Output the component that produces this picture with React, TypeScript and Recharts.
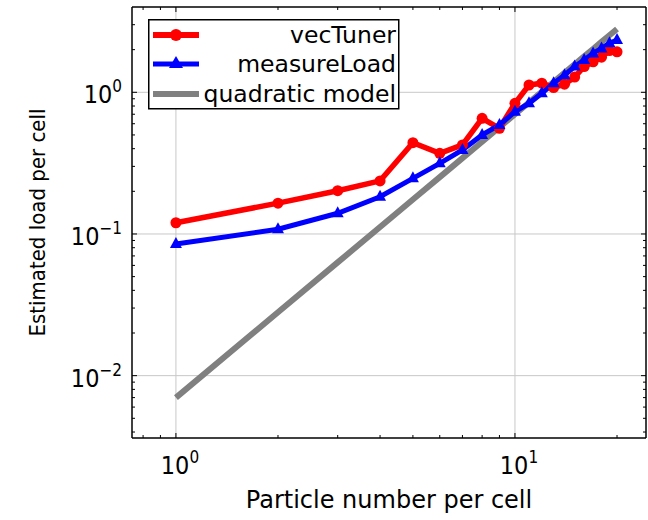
import { LineChart, Line, XAxis, YAxis, CartesianGrid } from 'recharts';

const particles = [1, 2, 3, 4, 5, 6, 7, 8, 9, 10, 11, 12, 13, 14, 15, 16, 17, 18, 19, 20];
const vecTuner = [0.12, 0.165, 0.202, 0.237, 0.441, 0.371, 0.425, 0.655, 0.557, 0.836, 1.126, 1.16, 1.08, 1.14, 1.28, 1.52, 1.64, 1.77, 1.97, 1.93];
const measureLoad = [0.085, 0.108, 0.14, 0.183, 0.247, 0.315, 0.392, 0.5, 0.588, 0.73, 0.836, 0.984, 1.16, 1.32, 1.52, 1.69, 1.88, 2.04, 2.22, 2.34];
const quadraticModel = [0.007, 0.028, 0.063, 0.112, 0.175, 0.252, 0.343, 0.448, 0.567, 0.7, 0.847, 1.008, 1.183, 1.372, 1.575, 1.792, 2.023, 2.268, 2.527, 2.8];

const xTicks = [0.8, 0.9, 1, 2, 3, 4, 5, 6, 7, 8, 9, 10, 20];
const yTicks = [
  0.004, 0.005, 0.006, 0.007, 0.008, 0.009, 0.01,
  0.02, 0.03, 0.04, 0.05, 0.06, 0.07, 0.08, 0.09, 0.1,
  0.2, 0.3, 0.4, 0.5, 0.6, 0.7, 0.8, 0.9, 1, 2, 3,
];
const xMajor = [1, 10];
const yMajor = [0.01, 0.1, 1];
const seriesNames = ['vecTuner', 'measureLoad', 'quadratic model'];

const data = particles.map((n, i) => ({
  n,
  vecTuner: vecTuner[i],
  measureLoad: measureLoad[i],
  quadratic: quadraticModel[i],
}));

const FONT = "'DejaVu Sans Condensed', 'DejaVu Sans', sans-serif";
const WIDE = "'DejaVu Sans', sans-serif";
const RED = '#ff0000';
const BLUE = '#0000ff';
const GRAY = '#808080';

const isMajor = (v: number) => Math.abs(Math.log10(v) - Math.round(Math.log10(v))) < 1e-6;

const powText = (v: number) => {
  const e = Math.round(Math.log10(v));
  return (
    <>
      10
      <tspan dy={-11} fontSize={17}>
        {e < 0 ? '\u2212' + -e : String(e)}
      </tspan>
    </>
  );
};

const BottomTick = ({ x, y, payload }: any) => {
  const major = isMajor(payload.value);
  return (
    <g>
      <line x1={x} x2={x} y1={y} y2={y - (major ? 5 : 3)} stroke="#000" />
      {major && (
        <text x={x + 4} y={y + 36} textAnchor="middle" fontSize={25} fontFamily={FONT} fill="#000">
          {powText(payload.value)}
        </text>
      )}
    </g>
  );
};

const TopTick = ({ x, y, payload }: any) => (
  <line x1={x} x2={x} y1={y} y2={y + (isMajor(payload.value) ? 5 : 3)} stroke="#000" />
);

const LeftTick = ({ x, y, payload }: any) => {
  const major = isMajor(payload.value);
  return (
    <g>
      <line x1={x} x2={x + (major ? 5 : 3)} y1={y} y2={y} stroke="#000" />
      {major && (
        <text x={x - 10} y={y + 11} textAnchor="end" fontSize={25} fontFamily={FONT} fill="#000">
          {powText(payload.value)}
        </text>
      )}
    </g>
  );
};

const RightTick = ({ x, y, payload }: any) => (
  <line x1={x} x2={x - (isMajor(payload.value) ? 5 : 3)} y1={y} y2={y} stroke="#000" />
);

const CircleDot = ({ cx, cy, index }: any) => (
  <circle key={index} cx={cx} cy={cy} r={5.5} fill={RED} />
);

const TriangleDot = ({ cx, cy, index }: any) => (
  <polygon
    key={index}
    points={`${cx},${cy - 7} ${cx - 6},${cy + 4} ${cx + 6},${cy + 4}`}
    fill={BLUE}
  />
);

const XTitle = ({ viewBox }: any) => (
  <text
    x={viewBox.x + viewBox.width / 2}
    y={viewBox.y + 70}
    textAnchor="middle"
    fontSize={24}
    fontFamily={WIDE}
    fill="#000"
  >
    Particle number per cell
  </text>
);

const YTitle = ({ viewBox }: any) => {
  const cx = viewBox.x + viewBox.width - 87;
  const cy = viewBox.y + viewBox.height / 2;
  return (
    <text
      x={cx}
      y={cy}
      transform={`rotate(-90, ${cx}, ${cy})`}
      textAnchor="middle"
      fontSize={22}
      fontFamily={FONT}
      fill="#000"
    >
      Estimated load per cell
    </text>
  );
};

const LegendBox = () => {
  const rows = [16, 45, 75];
  return (
    <svg width={252} height={91} style={{ position: 'absolute', left: 148, top: 19 }}>
      <rect x={0.75} y={0.75} width={250} height={89} fill="#fff" stroke="#000" strokeWidth={1.5} />
      <line x1={5} x2={51} y1={rows[0]} y2={rows[0]} stroke={RED} strokeWidth={6} />
      <circle cx={28} cy={rows[0]} r={6} fill={RED} />
      <line x1={5} x2={51} y1={rows[1]} y2={rows[1]} stroke={BLUE} strokeWidth={5} />
      <polygon points={`28,${rows[1] - 8} 21,${rows[1] + 4} 35,${rows[1] + 4}`} fill={BLUE} />
      <line x1={5} x2={51} y1={rows[2]} y2={rows[2]} stroke={GRAY} strokeWidth={6} />
      {seriesNames.map((name, i) => (
        <text key={name} x={248} y={rows[i] + 8} textAnchor="end" fontSize={23.5} fontFamily={WIDE} fill="#000">
          {name}
        </text>
      ))}
    </svg>
  );
};

const App = () => {
  return (
    <div style={{ position: 'absolute', left: 0, top: 0, width: 648, height: 520, background: '#fff' }}>
      <LineChart width={648} height={520} data={data} margin={{ top: 6, right: 1, bottom: 81, left: 131 }}>
        <CartesianGrid horizontalValues={yMajor} verticalValues={xMajor} stroke="#c8c8c8" strokeWidth={1} strokeDasharray="" />
        <XAxis
          dataKey="n"
          type="number"
          scale="log"
          domain={[0.742, 24.35]}
          allowDataOverflow
          ticks={xTicks}
          interval={0}
          height={1}
          tickSize={0}
          tickMargin={0}
          tickLine={false}
          tick={BottomTick}
          axisLine={{ stroke: '#000', strokeWidth: 1.5 }}
          label={{ content: XTitle }}
        />
        <XAxis
          xAxisId="top"
          orientation="top"
          dataKey="n"
          type="number"
          scale="log"
          domain={[0.742, 24.35]}
          allowDataOverflow
          ticks={xTicks}
          interval={0}
          height={1}
          tickSize={0}
          tickMargin={0}
          tickLine={false}
          tick={TopTick}
          axisLine={{ stroke: '#000', strokeWidth: 1.5 }}
        />
        <YAxis
          type="number"
          scale="log"
          domain={[0.00363, 4.0]}
          allowDataOverflow
          ticks={yTicks}
          interval={0}
          width={1}
          tickSize={0}
          tickMargin={0}
          tickLine={false}
          tick={LeftTick}
          axisLine={{ stroke: '#000', strokeWidth: 1.5 }}
          label={{ content: YTitle }}
        />
        <YAxis
          yAxisId="right"
          orientation="right"
          type="number"
          scale="log"
          domain={[0.00363, 4.0]}
          allowDataOverflow
          ticks={yTicks}
          interval={0}
          width={1}
          tickSize={0}
          tickMargin={0}
          tickLine={false}
          tick={RightTick}
          axisLine={{ stroke: '#000', strokeWidth: 1.5 }}
        />
        <Line dataKey="quadratic" name={seriesNames[2]} stroke={GRAY} strokeWidth={6} dot={false} isAnimationActive={false} />
        <Line dataKey="vecTuner" name={seriesNames[0]} stroke={RED} strokeWidth={5.5} dot={CircleDot} isAnimationActive={false} />
        <Line dataKey="measureLoad" name={seriesNames[1]} stroke={BLUE} strokeWidth={5} dot={TriangleDot} isAnimationActive={false} />
      </LineChart>
      <LegendBox />
    </div>
  );
};

export default App;
